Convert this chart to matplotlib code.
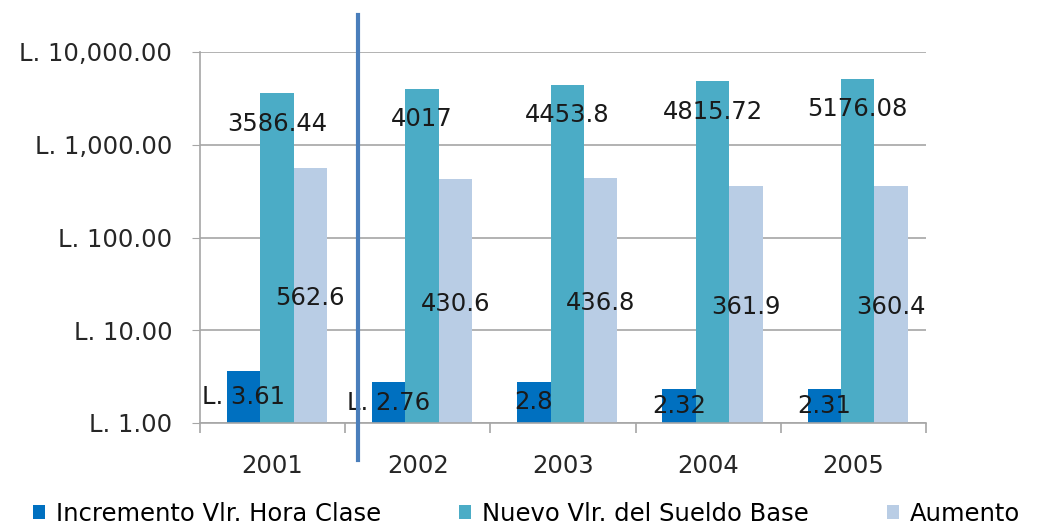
import numpy as np
import matplotlib.pyplot as plt
from matplotlib.lines import Line2D

# Data
years = ['2001', '2002', '2003', '2004', '2005']
incremento = [3.61, 2.76, 2.8, 2.32, 2.31]
nuevo_sueldo = [3586.44, 4017, 4453.8, 4815.72, 5176.08]
aumento = [562.6, 430.6, 436.8, 361.9, 360.4]
incremento_txt = ['L. 3.61', 'L. 2.76', '2.8', '2.32', '2.31']
ytick_vals = [1, 10, 100, 1000, 10000]
ytick_txt = ['L. 1.00', 'L. 10.00', 'L. 100.00', 'L. 1,000.00', 'L. 10,000.00']
series_names = ['Incremento Vlr. Hora Clase', 'Nuevo Vlr. del Sueldo Base', 'Aumento']

c_dark = '#0070c0'
c_teal = '#4bacc6'
c_light = '#b9cde5'
grey = '#a6a6a6'

plt.rcParams['font.family'] = 'DejaVu Sans'
fs = 17.5

fig = plt.figure(figsize=(10.59, 5.26), dpi=100)
ax = fig.add_axes([200/1059, 1-423/526, 726/1059, 371/526])

x = np.arange(len(years))
w = 0.23
b1 = ax.bar(x - w + 0.03, incremento, w, color=c_dark, label=series_names[0])
b2 = ax.bar(x + 0.03, nuevo_sueldo, w, color=c_teal, label=series_names[1])
b3 = ax.bar(x + w + 0.03, aumento, w, color=c_light, label=series_names[2])

ax.set_yscale('log')
ax.set_ylim(1, 10000)
ax.set_xlim(-0.5, len(years) - 0.5)

# labels
for i in range(len(years)):
    ax.annotate(incremento_txt[i], (x[i] - w + 0.03, np.sqrt(incremento[i])),
                ha='center', va='center', fontsize=fs, color='#1a1a1a')
    ax.annotate(f'{nuevo_sueldo[i]:g}', (x[i] + 0.03, nuevo_sueldo[i]),
                xytext=(0, -22), textcoords='offset points',
                ha='center', va='center', fontsize=fs, color='#1a1a1a')
    ax.annotate(f'{aumento[i]:g}', (x[i] + w + 0.03, np.sqrt(aumento[i])),
                xytext=(0, -2), textcoords='offset points',
                ha='center', va='center', fontsize=fs, color='#1a1a1a')

ax.set_yticks(ytick_vals)
ax.set_yticklabels(ytick_txt, fontsize=fs, color='#262626')
ax.yaxis.set_minor_locator(plt.NullLocator())
ax.tick_params(axis='y', length=6, color=grey, pad=14)

ax.set_xticks(x)
ax.set_xticklabels(years, fontsize=fs, color='#262626')
ax.set_xticks(np.arange(-0.5, len(years)), minor=True)
ax.tick_params(axis='x', which='major', length=0, pad=22)
ax.tick_params(axis='x', which='minor', length=7, color=grey, width=1.2)

ax.grid(axis='y', color=grey, linewidth=1.2)
ax.set_axisbelow(True)
for s in ['top', 'right']:
    ax.spines[s].set_visible(False)
for s in ['left', 'bottom']:
    ax.spines[s].set_color(grey)
    ax.spines[s].set_linewidth(1.2)

# vertical separator line
fig.add_artist(Line2D([358/1059, 358/1059], [1-460/526, 1-15/526],
                      color='#4a7ebb', linewidth=3))

fig.legend(handles=[b1, b2, b3], loc='center left',
           bbox_to_anchor=(33/1059, 1-514/526), ncol=3, frameon=False,
           fontsize=fs, handlelength=0.5, handleheight=0.5,
           handletextpad=0.45, columnspacing=3.2, borderpad=0, borderaxespad=0)

fig.savefig('out.png', dpi=100)
